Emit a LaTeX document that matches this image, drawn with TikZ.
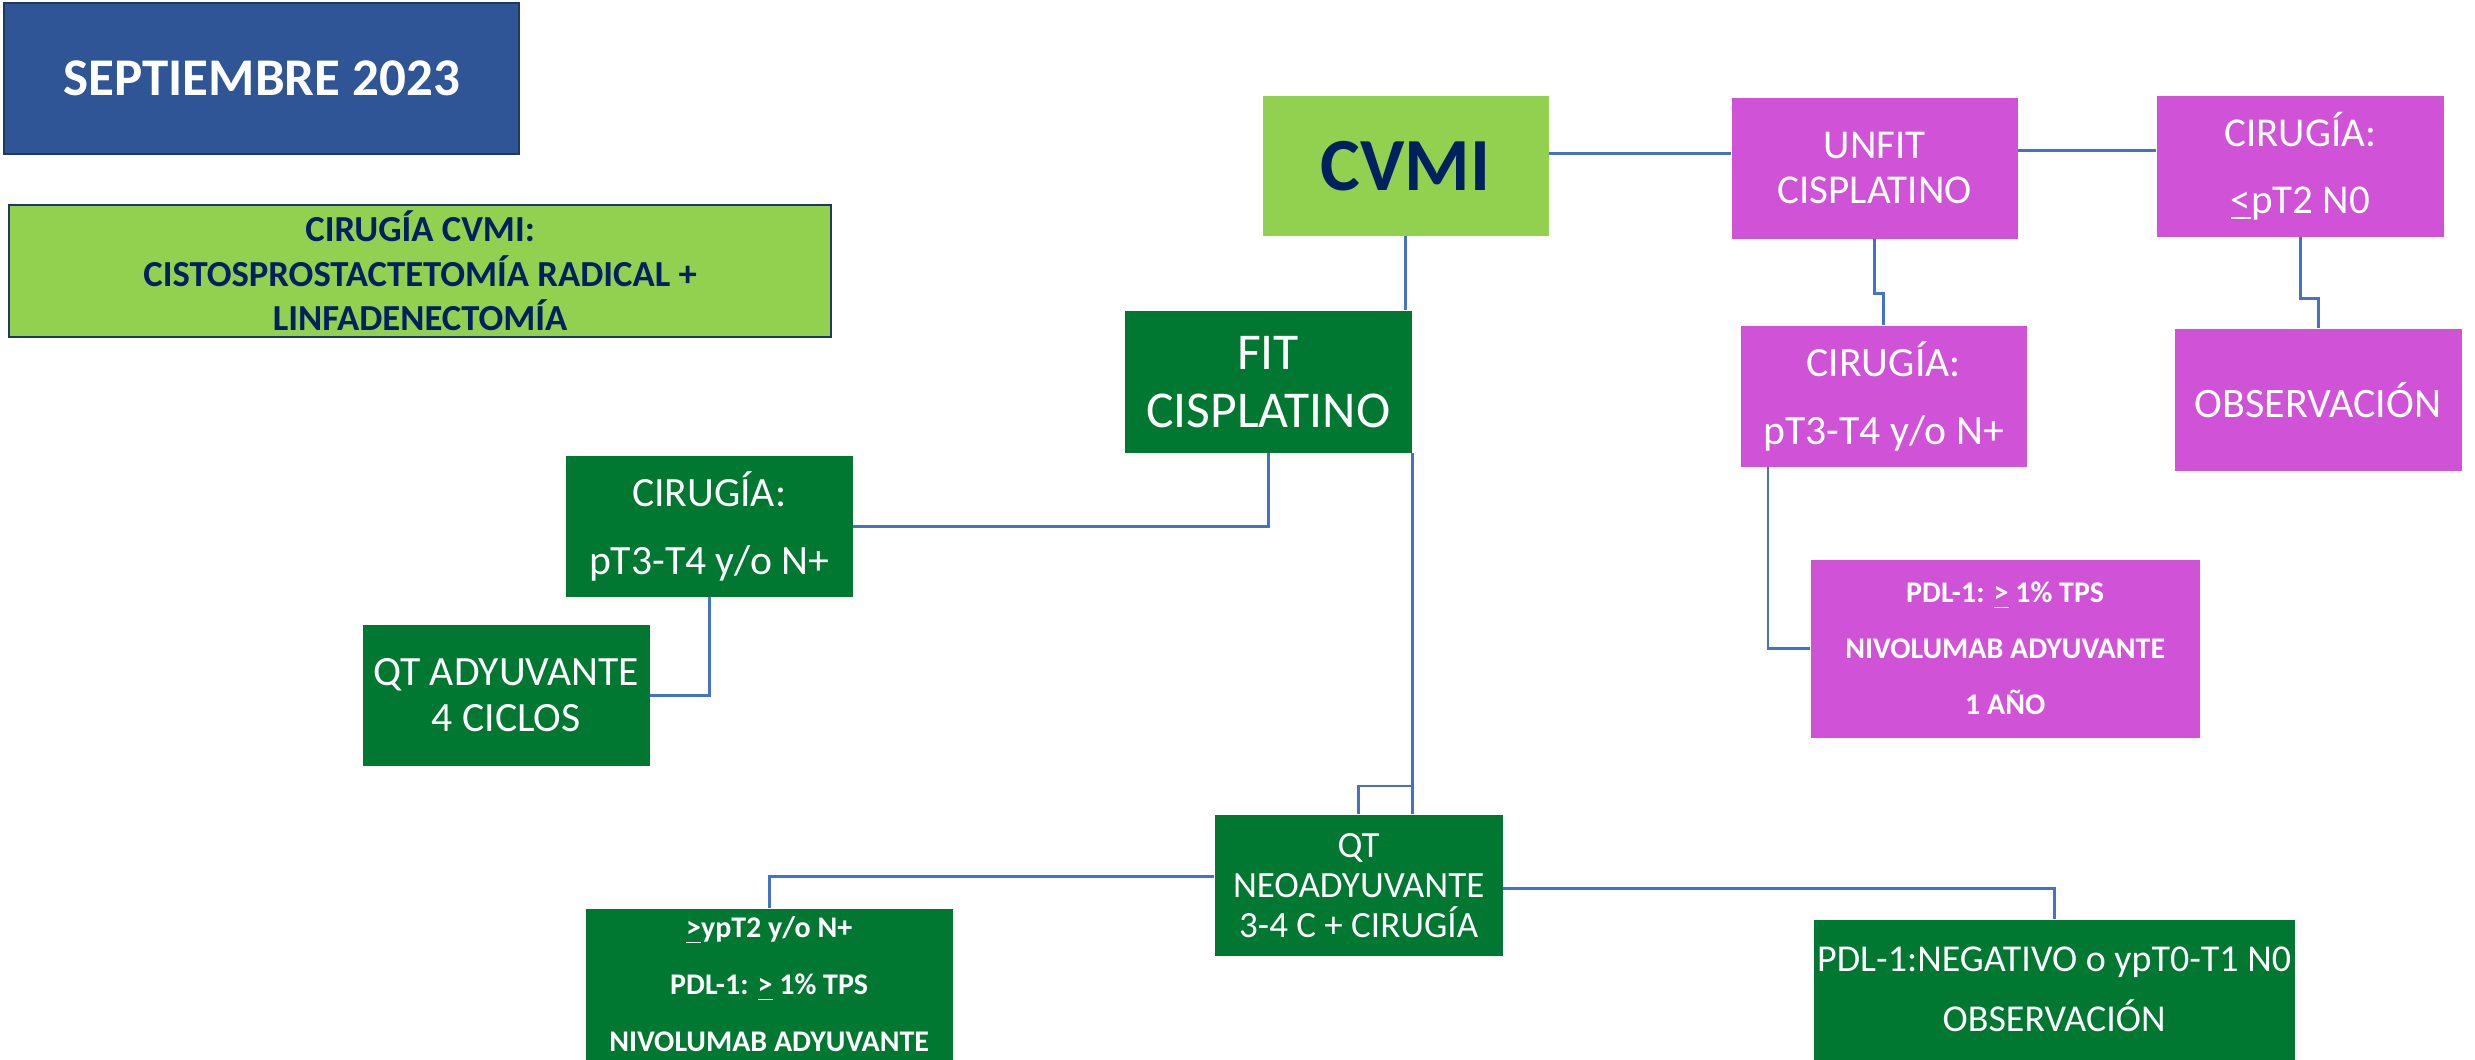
\documentclass[tikz,border=0pt]{standalone}
\usepackage{fontspec}
\setmainfont{Carlito}
\usetikzlibrary{calc}

\definecolor{hdrblue}{RGB}{47,85,151}
\definecolor{hdredge}{RGB}{32,56,100}
\definecolor{lgreen}{RGB}{146,208,80}
\definecolor{navy}{RGB}{0,32,96}
\definecolor{dgreen}{RGB}{0,120,50}
\definecolor{mauve}{RGB}{208,82,214}
\definecolor{wire}{RGB}{68,114,196}

\newcommand{\fs}[2]{\fontsize{#1pt}{#2pt}\selectfont}

\begin{document}
\begin{tikzpicture}[x=0.3pt,y=-0.3pt,
  bx/.style n args={4}{at={(#1,#2)}, anchor=north west,
    minimum width={(#3-#1)*0.3pt}, minimum height={(#4-#2)*0.3pt}},
  base/.style={rectangle, inner sep=0pt, align=center},
  hdrbox/.style={base, fill=hdrblue, draw=hdredge, line width=0.7pt, text=white},
  limebox/.style={base, fill=lgreen, text=navy},
  greenbox/.style={base, fill=dgreen, text=white},
  mauvebox/.style={base, fill=mauve, text=white},
  link/.style={draw=wire, line width=0.8pt}
]
\useasboundingbox (0,0) rectangle (2475,1059);

% title and legend
\node[hdrbox, bx={3}{2}{518}{153}, font=\fs{15.9}{19}\bfseries] (title) {SEPTIEMBRE 2023};
\node[limebox, draw=hdredge, line width=0.7pt, bx={8}{204}{830}{336}, font=\fs{11}{13.35}\bfseries] (legend)
  {CIRUGÍA CVMI:\\CISTOSPROSTACTETOMÍA RADICAL +\\LINFADENECTOMÍA};

% root
\node[limebox, bx={1262}{95}{1548}{235}, font=\fs{22.5}{27}\bfseries] (cvmi) {CVMI};

% unfit branch
\node[mauvebox, bx={1731}{97}{2017}{238}, font=\fs{12.3}{13.5}] (unfit) {UNFIT\\CISPLATINO};
\node[mauvebox, bx={2156}{95}{2443}{236}, font=\fs{12.3}{20}] (lowstage) {CIRUGÍA:\\\underline{<}pT2 N0};
\node[mauvebox, bx={2174}{328}{2461}{470}, font=\fs{12.6}{15}] (obsA) {OBSERVACIÓN};
\node[mauvebox, bx={1740}{325}{2026}{466}, font=\fs{12.5}{20.4}] (surgU) {CIRUGÍA:\\pT3-T4 y/o N+};
\node[mauvebox, bx={1810}{559}{2199}{737}, font=\fs{9}{16.8}\bfseries] (nivoU)
  {PDL-1: \underline{>} 1\% TPS\\NIVOLUMAB ADYUVANTE\\1 AÑO};

% fit branch
\node[greenbox, bx={1124}{310}{1411}{452}, font=\fs{15.5}{17.4}] (fit) {FIT\\CISPLATINO};
\node[greenbox, bx={565}{455}{852}{596}, font=\fs{12.5}{20.4}] (surgF) {CIRUGÍA:\\pT3-T4 y/o N+};
\node[greenbox, bx={362}{624}{649}{765}, font=\fs{12.5}{13.8}] (adjQT) {QT ADYUVANTE\\4 CICLOS};
\node[greenbox, bx={1214}{814}{1502}{955}, font=\fs{11.1}{12}] (neo) {QT\\NEOADYUVANTE\\3-4 C + CIRUGÍA};
\node[greenbox, bx={585}{908}{952}{1059}, font=\fs{9}{17}\bfseries] (nivoF)
  {\underline{>}ypT2 y/o N+\\PDL-1: \underline{>} 1\% TPS\\NIVOLUMAB ADYUVANTE};
\node[greenbox, bx={1813}{919}{2294}{1059}, font=\fs{11.4}{18}] (obsB)
  {PDL-1:NEGATIVO o ypT0-T1 N0\\OBSERVACIÓN};

% connectors
\draw[link] ($(cvmi.east)+(0,-12.5)$) coordinate (cvmiOut) -- (cvmiOut -| unfit.west);
\draw[link] ($(unfit.east)+(0,-17.5)$) coordinate (unfitOut) -- (unfitOut -| lowstage.west);
\draw[link] (cvmi.south) -- (cvmi.south |- fit.north);
\draw[link] (unfit.south) -- ++(0,54) -| (surgU.north);
\draw[link] (lowstage.south) -- ++(0,61) -| (obsA.north);
\draw[link] ($(surgU.south west)+(28,0)$) |- (nivoU.west);
\draw[link] (fit.south) |- (surgF.east);
\draw[link] (surgF.south) |- (adjQT.east);
\draw[link] (fit.south east) -- (fit.south east |- neo.north);
\draw[link] (fit.south east) -- ($(fit.south east |- neo.north)+(0,-28)$) -| (neo.north);
\draw[link] ($(neo.west)+(0,-8.5)$) -| (nivoF.north);
\draw[link] ($(neo.east)+(0,3.5)$) -| (obsB.north);
\end{tikzpicture}
\end{document}
